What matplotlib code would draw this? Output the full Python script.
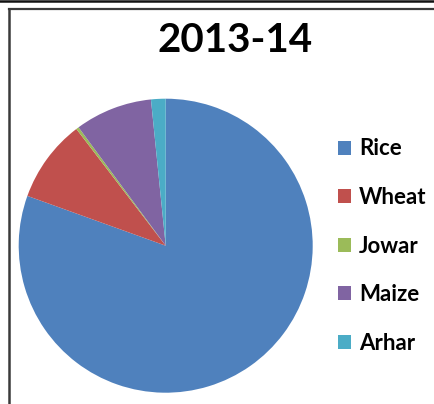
import matplotlib
matplotlib.use("Agg")
import matplotlib.pyplot as plt
from matplotlib.lines import Line2D
from matplotlib.patches import Patch

# data (shares in %)
crops = ["Rice", "Wheat", "Jowar", "Maize", "Arhar"]
shares = [80.5, 9.1, 0.3, 8.5, 1.6]
colors = ["#4F81BD", "#C0504D", "#9BBB59", "#8064A2", "#4BACC6"]

W, H = 434, 404
fig = plt.figure(figsize=(W / 100, H / 100), dpi=100)
fig.patch.set_facecolor("white")

# frame lines (page edge + chart box)
fig.add_artist(Line2D([0, 1], [1 - 1.2 / H, 1 - 1.2 / H], color="#111111", lw=1.8))
fig.add_artist(Line2D([8.5 / W, 1], [1 - 8.5 / H, 1 - 8.5 / H], color="#3a3a3a", lw=1.6))
fig.add_artist(Line2D([8.5 / W, 8.5 / W], [0, 1 - 8.5 / H], color="#3a3a3a", lw=1.8))

# pie axes: centre (165.7, 245.7) px, radius 147 px
cx, cy, r = 165.7, 245.7, 147
ax = fig.add_axes([(cx - r) / W, (H - cy - r) / H, 2 * r / W, 2 * r / H])
wedges, _ = ax.pie(shares, colors=colors, startangle=90, counterclock=False,
                   radius=1, wedgeprops=dict(linewidth=0))
ax.set_xlim(-1, 1)
ax.set_ylim(-1, 1)
ax.set_aspect("equal")
ax.axis("off")

fig.text(235 / W, 1 - 40 / H, "2013-14", ha="center", va="center",
         fontsize=29, fontweight="bold", family="Lato")

handles = [Patch(facecolor=c, edgecolor="none") for c in colors]
leg = fig.legend(handles, crops, loc="upper left",
                 bbox_to_anchor=(318 / W, 1 - 118.5 / H),
                 frameon=False, handlelength=0.6, handleheight=0.6,
                 handletextpad=0.35, labelspacing=1.24,
                 prop=dict(family="Lato", weight="bold", size=16))

fig.savefig("out.png", dpi=100)
